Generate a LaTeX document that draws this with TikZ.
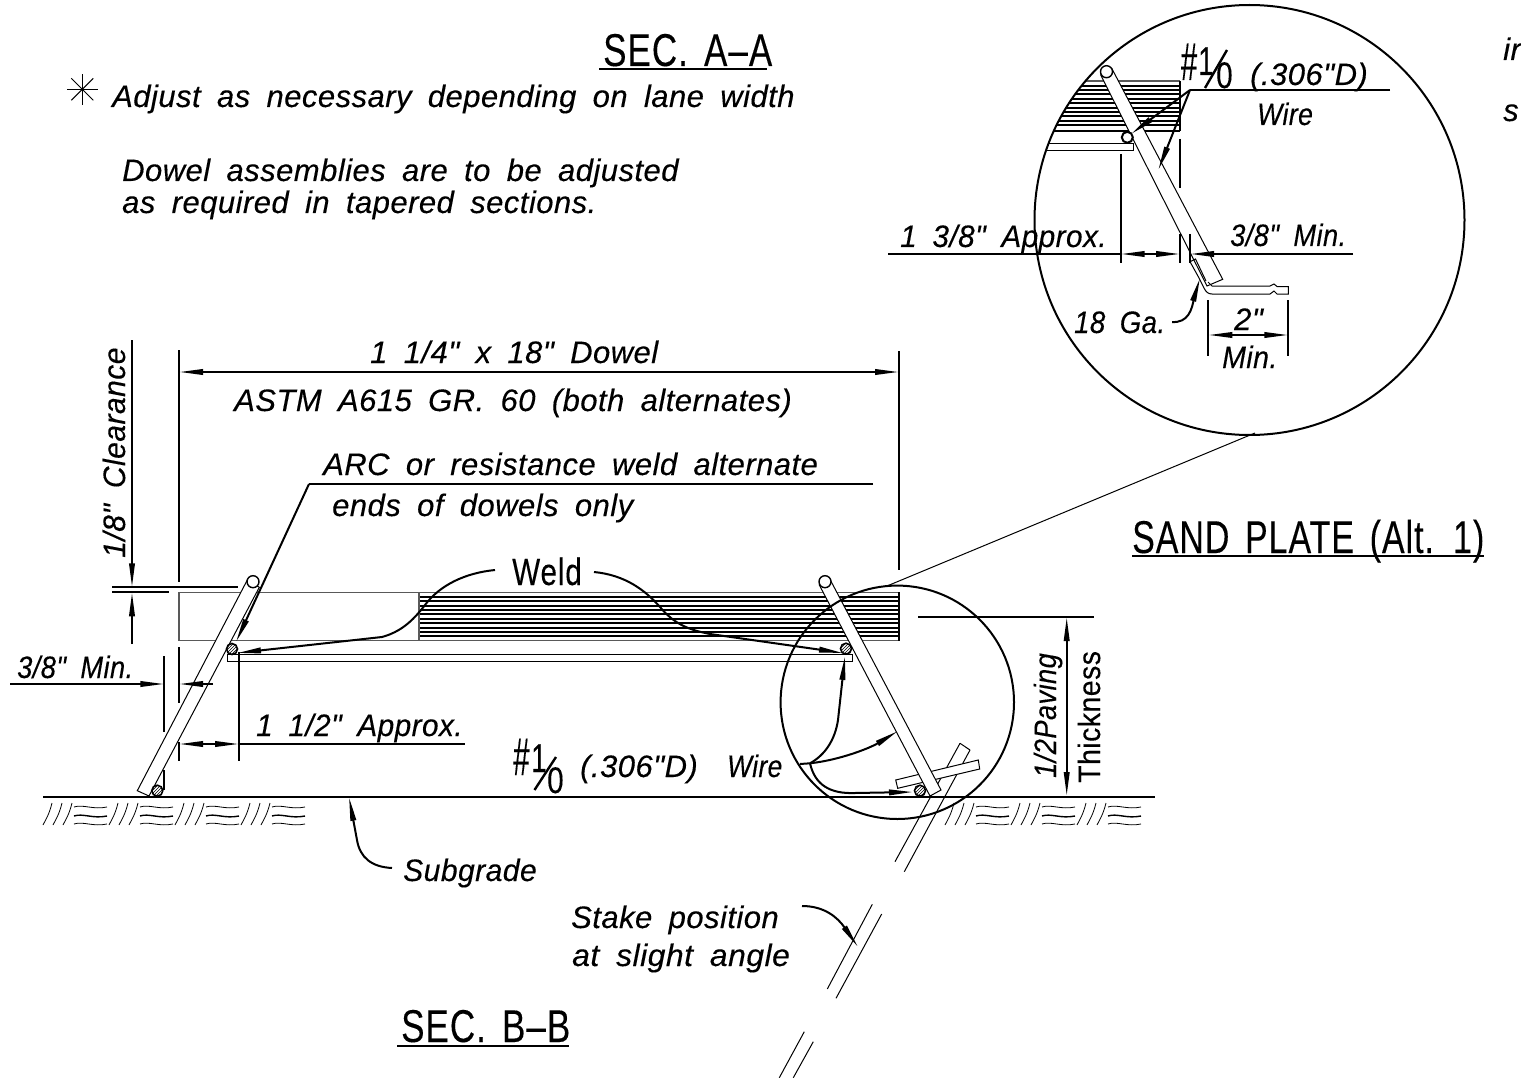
\documentclass[tikz,border=0pt]{standalone}
\usepackage{graphicx}
\usepackage{fontspec}
\setmainfont{Liberation Sans}
\newfontfamily\cadfont[LetterSpace=1.5,WordSpace=1.8,FakeBold=.25]{Liberation Sans}
\newfontfamily\titlefont[LetterSpace=3,WordSpace=1.5,FakeBold=.25]{Liberation Sans}
\usetikzlibrary{arrows.meta,patterns}
\tikzset{
	note/.style={anchor=base west, inner sep=0pt, font=\cadfont\itshape\fontsize{31}{31}\selectfont},
	plain/.style={anchor=base west, inner sep=0pt, font=\titlefont\fontsize{46}{46}\selectfont},
	heavy/.style={line width=2pt, black},
	thin line/.style={line width=1pt, black},
	gray line/.style={line width=1.2pt, black!65},
	tip/.style={line width=2pt, -{Triangle[length=24pt,width=5.5pt]}},
	tips/.style={line width=2pt, {Triangle[length=24pt,width=5.5pt]}-{Triangle[length=24pt,width=5.5pt]}},
	wire end/.style={circle, draw, line width=1.4pt, fill=white, minimum size=11pt, inner sep=0pt},
	wire cut/.style={circle, draw, line width=1.6pt, pattern=north east lines, minimum size=11pt, inner sep=0pt},
	bar/.style={thin line, fill=white}
}
\begin{document}
\begin{tikzpicture}[x=1pt, y=-1pt]
	\useasboundingbox (0,0) rectangle (1521,1078);
	\clip (0,0) rectangle (1521,1078);
	% Notes at the top:
	\node[plain] (secaa) at (603,66) {\scalebox{.76}[1]{SEC. A–A}};
	\draw[heavy] (599,69) -- (767,69);
	\foreach \ang in {0,45,90,135} \draw[thin line] (82.3,89.3) ++(\ang:15.5) -- ++(\ang+180:31);
	\node[note] (adjust) at (112,107) {Adjust as necessary depending on lane width};
	\node[note] (dowelone) at (122,181) {Dowel assemblies are to be adjusted};
	\node[note] (doweltwo) at (122,213) {as required in tapered sections.};
	\node[note] (cutone) at (1503,60) {ir};
	\node[note] (cuttwo) at (1503,121) {s};
	% Section B-B, dowel and rail:
	\foreach \yy in {596.7,601.1,...,638} \draw[line width=2pt] (419,\yy) -- (899,\yy);
	\draw[gray line] (179,592.3) -- (899,592.3);
	\draw[gray line] (179,640.7) -- (899,640.7);
	\draw[gray line] (419,592.3) -- (419,640.7);
	\draw[line width=1.2pt] (899,592.3) -- (899,640.7);
	\draw[gray line] (179,592.3) -- (179,640.7);
	\draw[thin line] (227,654.5) -- (852,654.5) -- (852,661.5) -- (227,661.5) -- cycle;
	% Second stake and plate at the right leg:
	\draw[thin line] (960,743.3) -- (970,750);
	\draw[thin line] (960,743.3) -- (895,861.7);
	\draw[thin line] (970,750) -- (904.3,871.7);
	\draw[bar] (895.7,780) -- (978.3,760) -- (979.7,769) -- (897.7,788.3) -- cycle;
	% Legs:
	\draw[bar] (247.3,580) -- (137.3,790.7) -- (149,796) -- (259.3,587.3) -- cycle;
	\draw[bar] (819.3,585) -- (930,796) -- (941,790) -- (830.7,580.7) -- cycle;
	\node[wire end, minimum size=12pt] (lefttop) at (253,581.7) {};
	\node[wire end, minimum size=12pt] (righttop) at (825,581.7) {};
	\node[wire cut] (leftwire) at (232,649) {};
	\node[wire cut] (leftfoot) at (157.3,790.7) {};
	\node[wire cut] (rightwire) at (846,648.7) {};
	\node[wire cut] (rightfoot) at (920,790.7) {};
	% Ground:
	\draw[heavy] (43,797) -- (1155,797);
	\foreach \xx in {43,109,175,241,945,1011,1077} {
		\foreach \dd in {0,10,20} \draw[line width=.8pt] (\xx+\dd,825) .. controls (\xx+\dd+3,819) and (\xx+\dd+6,815) .. (\xx+\dd+9,803);
		\foreach \yy/\ww in {807/.8,816/1.4,824/.8} \draw[line width=\ww pt] (\xx+31,\yy) .. controls (\xx+40,\yy-3) and (\xx+50,\yy+3) .. (\xx+64,\yy);
	}
	% Dimensions, section B-B:
	\node[note] (dowelsize) at (370,363) {1 1/4" x 18" Dowel};
	\node[note] (astm) at (234,411) {ASTM A615 GR. 60 (both alternates)};
	\draw[tips] (179,372) -- (899,372);
	\draw[heavy] (179,350) -- (179,582);
	\draw[heavy] (899,351) -- (899,570);
	\draw[heavy] (179,647) -- (179,703);
	\draw[heavy] (179,742) -- (179,761);
	\draw[heavy] (239,652) -- (239,761);
	\draw[tips] (179,744) -- (239,744);
	\draw[heavy] (239,744) -- (465,744);
	\node[note] (approx) at (256,736) {\scalebox{.96}[1]{1 1/2" Approx.}};
	\draw[heavy] (164.3,656) -- (164.3,731.7);
	\draw[heavy] (164.3,770) -- (164.3,790);
	\draw[tip] (10,684) -- (164.3,684);
	\draw[tip] (213,684) -- (179,684);
	\node[note] (minleft) at (17,678) {\scalebox{.88}[1]{3/8" Min.}};
	\draw[tip] (132,340) -- (132,587.3);
	\draw[tip] (132,644) -- (132,592.3);
	\draw[heavy] (112,587.3) -- (238,587.3);
	\draw[heavy] (112,592.3) -- (169,592.3);
	\node[note, rotate=90] (clearance) at (125,558) {\scalebox{.97}[1]{1/8" Clearance}};
	\node[note] (arc) at (323,475) {ARC or resistance weld alternate};
	\node[note] (ends) at (332,516) {ends of dowels only};
	\draw[heavy] (873,484) -- (309,484);
	\draw[tip] (309,484) -- (236,642);
	\node[plain, font=\titlefont\fontsize{38}{38}\selectfont] (weld) at (512,585) {\scalebox{.78}[1]{Weld}};
	\draw[tip] (495,570) .. controls (465,573) and (440,585) .. (425,605) .. controls (412,622) and (400,632) .. (382,637) -- (237,653);
	\draw[tip] (594,572) .. controls (625,575) and (645,590) .. (660,607) .. controls (675,625) and (690,630) .. (710,634) -- (843,653);
	% Paving dimension:
	\draw[heavy] (918,617) -- (1094,617);
	\draw[tips] (1066.7,617) -- (1066.7,796);
	\node[note, rotate=90] (paving) at (1056,778) {\scalebox{.88}[1]{1/2Paving}};
	\node[note, rotate=90, font=\cadfont\fontsize{31}{31}\selectfont] (thickness) at (1100,783) {\scalebox{.92}[1]{Thickness}};
	% Wire label and its leaders:
	\node[plain, font=\titlefont\fontsize{53}{53}\selectfont] (mainhash) at (513,775) {\scalebox{.55}[1]{\#}};
	\node[plain, font=\titlefont\fontsize{40}{40}\selectfont] (mainone) at (531,772) {\scalebox{.7}[1]{1}};
	\draw[heavy, line width=2.4pt] (534.5,790) -- (556,757);
	\node[plain, font=\titlefont\fontsize{37}{37}\selectfont] (mainzero) at (547,793) {\scalebox{.8}[1]{0}};
	\node[note] (maindia) at (580,777) {(.306"D)};
	\node[note] (mainwire) at (727,777) {\scalebox{.85}[1]{Wire}};
	\draw[tip] (800,764) -- (810,763.3) .. controls (825,755) and (835,740) .. (838,720) -- (845,656);
	\draw[tip] (810,763.3) .. controls (840,760) and (870,748) .. (898,731);
	\draw[tip] (810,763.3) .. controls (815,785) and (830,794) .. (855,793) -- (913,792);
	% Small circle:
	\draw[line width=2pt] (897.3,702.3) circle[radius=116.7];
	\coordinate (smalltop) at (887,586);
	\coordinate (bigbottom) at (1255,433);
	\draw[thin line] (smalltop) -- (bigbottom);
	% Subgrade and stake:
	\draw[tip] (392,868) .. controls (372,867) and (360,858) .. (357,840) -- (349,797);
	\node[note] (subgrade) at (403,881) {\scalebox{.97}[1]{Subgrade}};
	\node[note] (stakeone) at (571,928) {Stake position};
	\node[note] (staketwo) at (572,966) {\scalebox{1.03}[1]{at slight angle}};
	\draw[thin line] (872.3,904.3) -- (827.3,989);
	\draw[thin line] (881.7,914) -- (836,998.3);
	\draw[thin line] (804.3,1031.7) -- (779.3,1077.7);
	\draw[thin line] (813.3,1041.7) -- (793.3,1077.7);
	\draw[tip] (802,906) .. controls (825,906) and (838,918) .. (858,947);
	\node[plain] (secbb) at (401,1042) {\scalebox{.76}[1]{SEC. B–B}};
	\draw[heavy] (397,1046) -- (569,1046);
	\node[plain] (sandplate) at (1132,553) {\scalebox{.737}[1]{SAND PLATE (Alt. 1)}};
	\draw[heavy] (1132,556) -- (1484,556);
	% Inset, sand plate detail:
	\begin{scope}
		\clip (1249.5,220) circle[radius=215];
		\foreach \yy in {85.7,90.1,...,127} \draw[line width=2pt] (1040,\yy) -- (1180,\yy);
		\draw[gray line] (1040,81) -- (1180,81);
		\draw[line width=2pt] (1040,131) -- (1180,131);
		\draw[thin line] (1040,144) -- (1133.3,144) -- (1133.3,151) -- (1040,151);
	\end{scope}
	\draw[line width=1.2pt] (1180,81) -- (1180,131);
	\draw[bar] (1100.7,75) -- (1207,286) -- (1222.7,279.3) -- (1111.7,68.3) -- cycle;
	\node[wire end, minimum size=12pt] (insettop) at (1106.5,71.7) {};
	\node[wire end, line width=2pt] (insetwire) at (1127.3,137.3) {};
	\draw[thin line] (1190,261.7) -- (1195.5,259) -- (1206,281);
	\draw[thin line] (1190,261.7) -- (1198.3,276.7) -- (1204,288) .. controls (1206,292) and (1208,294) .. (1212,294) -- (1270,294) -- (1274,291) -- (1277,294) -- (1288.3,294) -- (1288.3,286.5) -- (1277,286.5) -- (1274,284) -- (1270,286) -- (1212,286) -- (1208,282);
	\draw[line width=2pt] (1249.5,220) circle[radius=215];
	\node[plain, font=\titlefont\fontsize{53}{53}\selectfont] (insethash) at (1180.7,80) {\scalebox{.55}[1]{\#}};
	\node[plain, font=\titlefont\fontsize{40}{40}\selectfont] (insetone) at (1198,75) {\scalebox{.7}[1]{1}};
	\draw[heavy, line width=2.4pt] (1205,88) -- (1227,50);
	\node[plain, font=\titlefont\fontsize{37}{37}\selectfont] (insetzero) at (1216,88) {\scalebox{.8}[1]{0}};
	\node[note] (insetdia) at (1250,85) {(.306"D)};
	\node[note] (insetwirelabel) at (1257,125) {\scalebox{.86}[1]{Wire}};
	\draw[heavy] (1390,90) -- (1190,90);
	\draw[tip] (1190,90) -- (1131,134);
	\draw[tip] (1190,90) -- (1158.3,170);
	\draw[heavy] (1180,139) -- (1180,188);
	\draw[heavy] (1120.7,154) -- (1120.7,263);
	\draw[heavy] (1180,234) -- (1180,263);
	\draw[heavy] (1190,234) -- (1190,263);
	\draw[heavy] (888,254) -- (1120.7,254);
	\draw[tips] (1120.7,254) -- (1180,254);
	\draw[heavy] (1353,254) -- (1215,254);
	\draw[tip] (1215,254) -- (1190,254);
	\node[note] (insetapprox) at (900,247) {\scalebox{.96}[1]{1 3/8" Approx.}};
	\node[note] (insetmin) at (1230,246) {\scalebox{.88}[1]{3/8" Min.}};
	\node[note] (gauge) at (1074,333) {\scalebox{.89}[1]{18 Ga.}};
	\draw[tip] (1172,322) .. controls (1188,323) and (1192,310) .. (1194,298) -- (1200,278);
	\draw[heavy] (1208.3,300) -- (1208.3,356);
	\draw[heavy] (1288.3,300) -- (1288.3,356);
	\draw[tips] (1208.3,335) -- (1288.3,335);
	\node[note] (two) at (1234,330) {2"};
	\node[note] (twomin) at (1222,368) {\scalebox{.92}[1]{Min.}};
\end{tikzpicture}
\end{document}
